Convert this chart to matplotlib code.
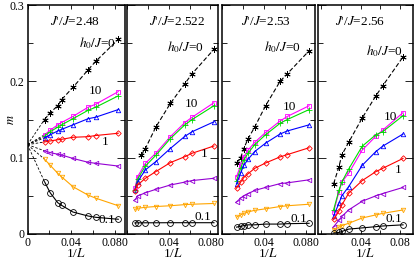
import numpy as np
import matplotlib.pyplot as plt
from matplotlib.ticker import FixedLocator, FixedFormatter, NullFormatter

plt.rcParams['font.family'] = 'Liberation Serif'
plt.rcParams['mathtext.fontset'] = 'stix'

# panel titles (J'/J) and the h0/J of each series
ratios = ['2.48', '2.522', '2.53', '2.56']
h_labels = ['10', '5', '2', '1', '0.5', '0.2', '0.1']

# J'/J = 2.48
L_a = [64, 48, 36, 32, 24, 18, 16, 12]
m0_a = [0.150, 0.159, 0.168, 0.176, 0.192, 0.215, 0.226, 0.255]
m_a = [
    [0.130, 0.136, 0.143, 0.146, 0.154, 0.166, 0.170, 0.1865],
    [0.128, 0.134, 0.140, 0.143, 0.151, 0.162, 0.166, 0.181],
    [0.126, 0.130, 0.135, 0.137, 0.143, 0.151, 0.153, 0.163],
    [0.1206, 0.1219, 0.1235, 0.124, 0.1267, 0.1275, 0.129, 0.132],
    [0.109, 0.1066, 0.1045, 0.1035, 0.099, 0.094, 0.0926, 0.089],
    [0.098, 0.090, 0.0795, 0.075, 0.062, 0.051, 0.047, 0.037],
    [0.0685, 0.054, 0.041, 0.0376, 0.0288, 0.0236, 0.0219, 0.0193],
]
m_inf_a = 0.117

# J'/J = 2.522
L_b = [128, 96, 56, 36, 24, 18, 16, 12]
L0_b = [72, 56, 36, 24, 18, 16, 12]
m0_b = [0.1035, 0.112, 0.140, 0.171, 0.197, 0.210, 0.242]
m_b = [
    [0.060, 0.075, 0.0927, 0.1058, 0.1275, 0.146, 0.153, 0.172],
    [0.058, 0.072, 0.089, 0.103, 0.125, 0.143, 0.150, 0.168],
    [0.0577, 0.0685, 0.084, 0.0948, 0.112, 0.128, 0.134, 0.147],
    [0.0568, 0.0642, 0.073, 0.0817, 0.0935, 0.1013, 0.1058, 0.1153],
    [0.0446, 0.0498, 0.054, 0.0585, 0.0642, 0.068, 0.070, 0.073],
    [0.0323, 0.0337, 0.035, 0.036, 0.037, 0.0385, 0.039, 0.040],
    [0.0145, 0.0146, 0.0147, 0.0147, 0.0148, 0.0148, 0.0148, 0.0148],
]

# J'/J = 2.53
L_c = [72, 56, 48, 40, 32, 24, 18, 16, 12]
L0_c = [72, 56, 48, 40, 32, 24, 18, 16, 12]
m0_c = [0.093, 0.100, 0.112, 0.125, 0.140, 0.168, 0.200, 0.210, 0.240]
m_c = [
    [0.075, 0.090, 0.101, 0.110, 0.120, 0.133, 0.148, 0.154, 0.168],
    [0.070, 0.086, 0.097, 0.106, 0.117, 0.130, 0.145, 0.150, 0.163],
    [0.066, 0.080, 0.090, 0.098, 0.108, 0.119, 0.131, 0.135, 0.143],
    [0.060, 0.068, 0.074, 0.079, 0.086, 0.093, 0.101, 0.104, 0.113],
    [0.042, 0.047, 0.050, 0.053, 0.057, 0.061, 0.066, 0.067, 0.071],
    [0.022, 0.025, 0.027, 0.029, 0.031, 0.033, 0.036, 0.037, 0.039],
    [0.009, 0.010, 0.011, 0.012, 0.012, 0.013, 0.013, 0.0135, 0.014],
]

# J'/J = 2.56
L_d = [80, 56, 48, 36, 24, 18, 16, 12]
L0_d = [80, 56, 48, 36, 24, 18, 16, 12]
m0_d = [0.066, 0.088, 0.1035, 0.120, 0.152, 0.181, 0.194, 0.232]
m_d = [
    [0.029, 0.055, 0.068, 0.0795, 0.110, 0.128, 0.136, 0.159],
    [0.032, 0.057, 0.068, 0.085, 0.115, 0.130, 0.134, 0.155],
    [0.024, 0.040, 0.050, 0.062, 0.090, 0.108, 0.115, 0.131],
    [0.019, 0.030, 0.038, 0.0533, 0.070, 0.0817, 0.086, 0.099],
    [0.0096, 0.018, 0.023, 0.0315, 0.043, 0.050, 0.053, 0.061],
    [0.005, 0.009, 0.011, 0.014, 0.021, 0.025, 0.027, 0.0315],
    [0.0013, 0.002, 0.0033, 0.0064, 0.008, 0.0096, 0.0105, 0.012],
]

colors = ['#ff00ff', '#00dd00', '#0000ff', '#ff0000', '#9400d3', '#ffa500', 'black']
markers = ['s', '+', '^', 'D', '<', 'v', 'o']
msizes = [3.2, 4.5, 3.2, 2.8, 3.2, 3.2, 4.2]

W, H = 415, 261
fig = plt.figure(figsize=(W / 100, H / 100), dpi=100)
boxes = [(27.5, 125), (126.7, 218.3), (222, 314.5), (317.5, 413)]
xlims = [(0, 0.0895), (0, 0.0875), (0, 0.0885), (-0.004, 0.0935)]
top, bottom = 5, 234

panels = [
    (L_a, L_a, m0_a, m_a),
    (L_b, L0_b, m0_b, m_b),
    (L_c, L0_c, m0_c, m_c),
    (L_d, L0_d, m0_d, m_d),
]

# label positions (data coords): title, h0=0 (right edge), 10, 1, 0.1
title_pos = [(0.044, 0.279), (0.048, 0.279), (0.042, 0.279), (0.040, 0.279)]
h0_pos = [(0.081, 0.250), (0.074, 0.245), (0.076, 0.245), (0.083, 0.240)]
ten_pos = [(0.062, 0.187), (0.062, 0.170), (0.065, 0.166), (0.070, 0.153)]
one_pos = [(0.071, 0.120), (0.074, 0.105), None, (0.078, 0.084)]
tenth_pos = [(0.073, 0.018), (0.073, 0.022), (0.074, 0.020), (0.074, 0.020)]

for k, (x0, x1) in enumerate(boxes):
    ax = fig.add_axes([x0 / W, 1 - bottom / H, (x1 - x0) / W, (bottom - top) / H])
    L, L0, m0, ms = panels[k]
    x = 1 / np.array(L)
    x0s = 1 / np.array(L0)

    if k == 0:
        # extrapolations to the thermodynamic limit
        for row in ms:
            ax.plot([0, x[0]], [m_inf_a, row[0]], color='black', lw=0.6, ls=(0, (3, 2)))
        ax.plot([0, x0s[0]], [m_inf_a, m0[0]], color='black', lw=0.6, ls=(0, (3, 2)))

    ax.plot(x0s, m0, color='black', lw=0.8, ls=(0, (4, 2)), marker=(6, 2, 0),
            ms=4.5, mew=0.6)
    for row, c, mk, s in zip(ms, colors, markers, msizes):
        ax.plot(x, row, color=c, lw=0.8, marker=mk, ms=s, mfc='none', mew=0.6)

    ax.set_xlim(*xlims[k])
    ax.set_ylim(0, 0.3)
    ax.xaxis.set_major_locator(FixedLocator([0, 0.04, 0.08]))
    ax.xaxis.set_minor_locator(FixedLocator([0.02, 0.06]))
    ax.yaxis.set_major_locator(FixedLocator([0, 0.1, 0.2, 0.3]))
    ax.yaxis.set_minor_locator(FixedLocator([0.05, 0.15, 0.25]))
    if k == 0:
        ax.xaxis.set_major_formatter(FixedFormatter(['0', '0.04', '0.080']))
        ax.yaxis.set_major_formatter(FixedFormatter(['0', '0.1', '0.2', '0.3']))
        ax.set_ylabel('$m$', fontsize=9)
        ax.yaxis.set_label_coords(-0.11, 0.5)
    elif k == 3:
        ax.xaxis.set_major_formatter(FixedFormatter(['', '0.04', '0.08']))
        ax.yaxis.set_major_formatter(NullFormatter())
    else:
        ax.xaxis.set_major_formatter(FixedFormatter(['', '0.04', '0.080']))
        ax.yaxis.set_major_formatter(NullFormatter())
    ax.tick_params(which='both', direction='in', top=True, right=True,
                   labelsize=8.5, pad=2, width=0.6)
    ax.tick_params(axis='y', which='major', length=6)
    ax.tick_params(axis='y', which='minor', length=3.5)
    ax.tick_params(axis='x', which='both', length=3)
    for sp in ax.spines.values():
        sp.set_linewidth(1.1)
    ax.set_xlabel('1/$L$', fontsize=9.5, labelpad=-1)

    ax.text(*title_pos[k], "$J$'/$J$=" + ratios[k], fontsize=9.5, ha='center', va='center')
    ax.text(*h0_pos[k], '$h_0/J$=0', fontsize=9.5, ha='right', va='center')
    ax.text(*ten_pos[k], '10', fontsize=9.5, ha='center', va='center')
    if one_pos[k] is not None:
        ax.text(*one_pos[k], '1', fontsize=9.5, ha='center', va='center')
    ax.text(*tenth_pos[k], '0.1', fontsize=9.5, ha='center', va='center')

fig.savefig('out.png', dpi=100)
